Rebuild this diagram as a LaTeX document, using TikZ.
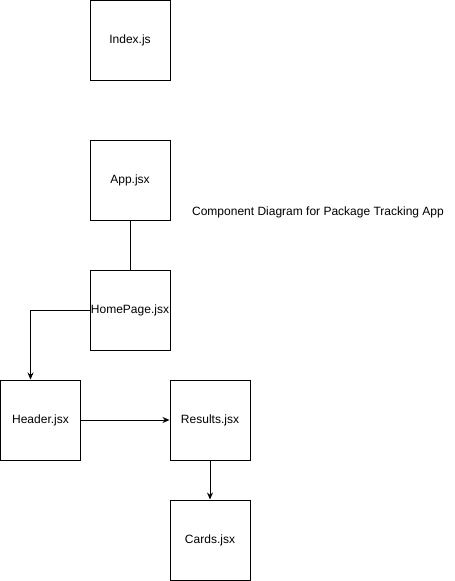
\documentclass[tikz,border=0pt]{standalone}
\usepackage{fontspec}
\setmainfont{Liberation Sans}
\usetikzlibrary{arrows.meta}
\begin{document}
\begin{tikzpicture}[x=1pt,y=-1pt,>={Stealth[length=7pt,width=6pt]},
  comp/.style={draw,line width=1pt,minimum size=80pt,inner sep=0pt,font=\fontsize{12}{14}\selectfont}]
\useasboundingbox (0,0) rectangle (455,581);
\node[comp] (Index) at (130,40.5) {Index.js};
\node[comp] (App) at (130,180) {App.jsx};
\node[font=\fontsize{12}{14}\selectfont] (Title) at (318,212) {Component Diagram for Package Tracking App};
\node[comp] (Home) at (130,310) {HomePage.jsx};
\node[comp] (Header) at (40.5,420) {Header.jsx};
\node[comp] (Results) at (210,420) {Results.jsx};
\node[comp] (Cards) at (210,540) {Cards.jsx};
\path[line width=1pt]
  (App) edge (Home)
  (Header) edge [->] (Results)
  (Results) edge [->] (Cards)
;
\draw[->,line width=1pt] (Home.west) -| ([xshift=-10pt]Header.north);
\end{tikzpicture}
\end{document}
